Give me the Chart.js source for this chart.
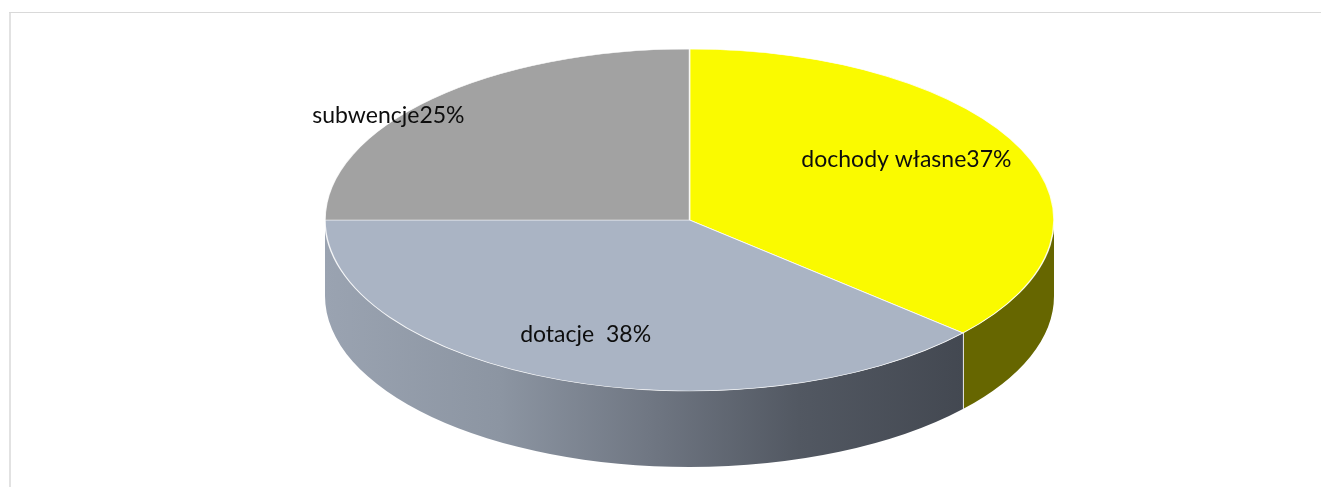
<!DOCTYPE html>
<html><head><meta charset="utf-8">
<script src="https://cdn.jsdelivr.net/npm/chart.js@4.4.1/dist/chart.umd.min.js"></script>
<style>html,body{margin:0;padding:0;background:#fff;overflow:hidden}#wrap{width:1321px;height:487px;position:relative}canvas{display:block}</style>
</head><body><div id="wrap"><canvas id="c" width="1321" height="487"></canvas></div>
<script>
const categories = ['dochody własne', 'dotacje', 'subwencje'];
const values = [36.5, 38.5, 25];
const dataLabels = ['dochody własne37%', 'dotacje  38%', 'subwencje25%'];
const topColors = ['#fafa00', '#aab4c4', '#a2a2a2'];
const sideColors = ['#666600', null, '#6a6a6a'];

const RX = 364.5, RY = 171, DEPTH = 76;
const labelAnchors = [[0.595, -0.31], [-0.285, 0.713], [-0.826, -0.567]];

const pie3d = {
  id: 'pie3d',
  beforeDraw(chart) {
    const ctx = chart.ctx;
    ctx.save();
    ctx.fillStyle = '#e2e2e2';
    ctx.fillRect(9, 12, 2, 475);
    ctx.fillStyle = '#d9d9d9';
    ctx.fillRect(9, 12, 1312, 1);
    ctx.restore();
  },
  beforeDatasetsDraw(chart) {
    const ctx = chart.ctx;
    const arcs = chart.getDatasetMeta(0).data;
    const cx = arcs[0].x, cy = arcs[0].y, r = arcs[0].outerRadius;
    ctx.save();
    arcs.forEach((arc, i) => {
      const lo = Math.max(arc.startAngle, 0), hi = Math.min(arc.endAngle, Math.PI);
      if (lo >= hi) return;
      let fill = sideColors[i];
      if (!fill) {
        const g = ctx.createLinearGradient(cx - RX, 0, cx + RX, 0);
        g.addColorStop(0, '#9aa3b1');
        g.addColorStop(0.24, '#8c95a2');
        g.addColorStop(0.45, '#6f7682');
        g.addColorStop(0.65, '#525862');
        g.addColorStop(0.878, '#434851');
        g.addColorStop(1, '#3c4048');
        fill = g;
      }
      ctx.beginPath();
      ctx.ellipse(cx, cy, RX, RY, 0, lo, hi);
      ctx.ellipse(cx, cy + DEPTH, RX, RY, 0, hi, lo, true);
      ctx.closePath();
      ctx.fillStyle = fill;
      ctx.fill();
    });
    ctx.strokeStyle = '#dedede';
    ctx.lineWidth = 1;
    arcs.forEach(arc => {
      [arc.startAngle, arc.endAngle].forEach(t => {
        if (t > 0.001 && t < Math.PI - 0.001) {
          const x = Math.round(cx + RX * Math.cos(t)) + 0.5, y = cy + RY * Math.sin(t);
          ctx.beginPath(); ctx.moveTo(x, y); ctx.lineTo(x, y + DEPTH); ctx.stroke();
        }
      });
    });
    ctx.restore();
    ctx.save();
    ctx.translate(cx, cy);
    ctx.scale(RX / r, RY / r);
    ctx.translate(-cx, -cy);
  },
  afterDatasetsDraw(chart) {
    const ctx = chart.ctx;
    ctx.restore();
    const arcs = chart.getDatasetMeta(0).data;
    const cx = arcs[0].x, cy = arcs[0].y;
    ctx.save();
    ctx.fillStyle = '#0d0d0d';
    ctx.font = '23px Lato, "Open Sans", sans-serif';
    ctx.textAlign = 'center';
    ctx.textBaseline = 'alphabetic';
    dataLabels.forEach((t, i) => {
      const [fx, fy] = labelAnchors[i];
      ctx.fillText(t, cx + fx * RX, cy + fy * RY);
    });
    ctx.restore();
  }
};

new Chart(document.getElementById('c'), {
  type: 'pie',
  data: {
    labels: categories,
    datasets: [{
      data: values,
      backgroundColor: topColors,
      borderColor: 'rgba(255,255,255,0.85)',
      borderWidth: 0.7,
      radius: RY,
      clip: false
    }]
  },
  options: {
    responsive: false,
    animation: false,
    events: [],
    layout: { padding: { left: 58, right: 0, top: 0, bottom: 47 } },
    plugins: { legend: { display: false }, tooltip: { enabled: false } }
  },
  plugins: [pie3d]
});
</script>
</body></html>
